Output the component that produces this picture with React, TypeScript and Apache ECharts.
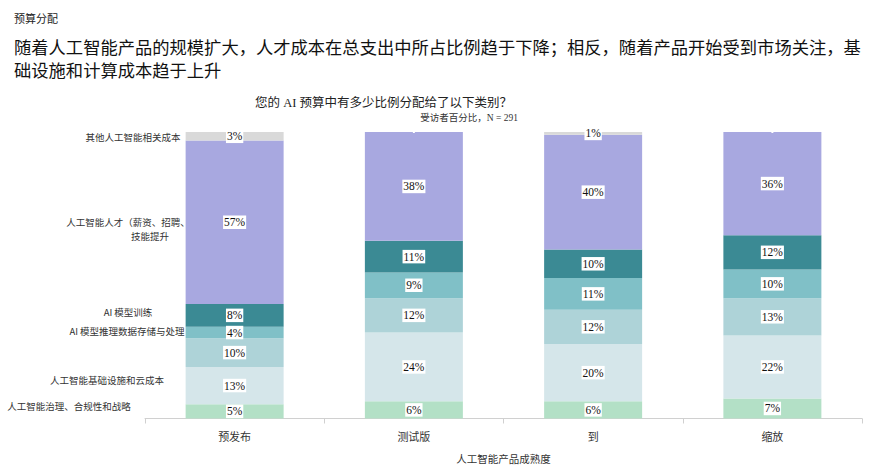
import React, { useEffect, useRef } from "react";
import * as echarts from "echarts";

// Product maturity stages
const categories = ["预发布", "测试版", "到", "缩放"];

// Share of AI budget (%) per category, stacked bottom to top
const governance = [5, 6, 6, 7];
const infrastructure = [13, 24, 20, 22];
const inference = [10, 12, 12, 13];
const dataStorage = [4, 9, 11, 10];
const training = [8, 11, 10, 12];
const talent = [57, 38, 40, 36];
const other = [3, 0, 1, 0];

const seriesNames = [
  "人工智能治理、合规性和战略",
  "人工智能基础设施和云成本",
  "AI 模型推理",
  "数据存储与处理",
  "AI 模型训练",
  "人工智能人才（薪资、招聘、技能提升",
  "其他人工智能相关成本",
];

// Row labels shown to the left of the first bar (one per series, lines split by \n)
const rowLabels = [
  "人工智能治理、合规性和战略",
  "人工智能基础设施和云成本",
  "",
  "AI 模型推理数据存储与处理",
  "AI 模型训练",
  "人工智能人才（薪资、招聘、\n技能提升",
  "其他人工智能相关成本",
];

const seriesColors = [
  "#b3e0c6",
  "#d5e6ea",
  "#aed3d8",
  "#80c0c7",
  "#3b8a94",
  "#a8a8e0",
  "#d9d9d9",
];

const headline = [
  "随着人工智能产品的规模扩大，人才成本在总支出中所占比例趋于下降；相反，随着产品开始受到市场关注，基",
  "础设施和计算成本趋于上升",
];

const FONT = '"Liberation Serif", "Noto Sans CJK SC", serif';
const CJK = '"Noto Sans CJK SC", "Liberation Serif", sans-serif';

// Horizontal placement of each row label line (centre x) and vertical nudge
const rowLabelLayout: { x: number; dy: number }[][] = [
  [{ x: 69, dy: -5 }],
  [{ x: 107, dy: -6 }],
  [],
  [{ x: 127, dy: -2 }],
  [{ x: 128, dy: -3 }],
  [
    { x: 128, dy: 0 },
    { x: 150, dy: 14 },
  ],
  [{ x: 133, dy: 1 }],
];

export default function App() {
  const ref = useRef<HTMLDivElement>(null);

  useEffect(() => {
    if (!ref.current) return;
    const chart = echarts.init(ref.current, undefined, { renderer: "svg" });
    const stacks = [
      governance,
      infrastructure,
      inference,
      dataStorage,
      training,
      talent,
      other,
    ];

    chart.setOption({
      animation: false,
      grid: { left: 145, right: 18, top: 132, bottom: 49 },
      xAxis: {
        type: "category",
        data: categories,
        axisLine: { lineStyle: { color: "#d0d0d0" } },
        axisTick: { show: true, length: 5, lineStyle: { color: "#d0d0d0" } },
        axisLabel: { color: "#333", fontSize: 11, fontFamily: CJK, margin: 12 },
        name: "人工智能产品成熟度",
        nameLocation: "middle",
        nameGap: 35,
        nameTextStyle: { color: "#333", fontSize: 10.5, fontFamily: CJK },
      },
      yAxis: { type: "value", min: 0, max: 100, show: false },
      series: stacks.map((values, i) => ({
        name: seriesNames[i],
        type: "bar",
        stack: "total",
        barWidth: 98,
        itemStyle: { color: seriesColors[i] },
        label: {
          show: true,
          position: "inside",
          formatter: (p: any) => (p.value > 0 ? `${p.value}%` : ""),
          color: "#111",
          fontSize: 11.5,
          fontFamily: FONT,
          backgroundColor: "#fff",
          padding: [1, 1],
        },
        data: values,
      })),
    });

    // Row labels anchored to the centre of each segment of the first bar
    const graphics: any[] = [];
    let cum = 0;
    stacks.forEach((values, i) => {
      const v = values[0];
      const mid = cum + v / 2;
      cum += v;
      const lines = rowLabels[i] ? rowLabels[i].split("\n") : [];
      const pt = chart.convertToPixel({ xAxisIndex: 0, yAxisIndex: 0 }, [
        categories[0],
        mid,
      ]) as number[];
      lines.forEach((line, j) => {
        const lay = rowLabelLayout[i][j];
        graphics.push({
          type: "text",
          x: lay.x,
          y: pt[1] + lay.dy,
          style: {
            text: line,
            fill: "#333",
            font: `9.5px ${CJK}`,
            textAlign: "center",
            textVerticalAlign: "middle",
          },
        });
      });
    });

    graphics.push(
      {
        type: "text",
        x: 14,
        y: 18,
        style: {
          text: "预算分配",
          fill: "#222",
          font: `11px ${CJK}`,
          textVerticalAlign: "middle",
        },
      },
      ...headline.map((t, i) => ({
        type: "text",
        x: 14,
        y: 46 + i * 23,
        style: {
          text: t,
          fill: "#111",
          font: `17.3px ${CJK}`,
          textVerticalAlign: "middle",
        },
      })),
      {
        type: "text",
        x: 255,
        y: 103,
        style: {
          text: "您的 AI 预算中有多少比例分配给了以下类别？",
          fill: "#222",
          font: `12.5px ${FONT}`,
          textVerticalAlign: "middle",
        },
      },
      {
        type: "text",
        x: 518,
        y: 118,
        style: {
          text: "受访者百分比，N = 291",
          fill: "#333",
          font: `9.5px ${FONT}`,
          textAlign: "right",
          textVerticalAlign: "middle",
        },
      }
    );

    chart.setOption({ graphic: graphics });

    return () => chart.dispose();
  }, []);

  return (
    <div
      ref={ref}
      style={{ position: "fixed", left: 0, top: 0, width: 880, height: 469, background: "#fff" }}
    />
  );
}
